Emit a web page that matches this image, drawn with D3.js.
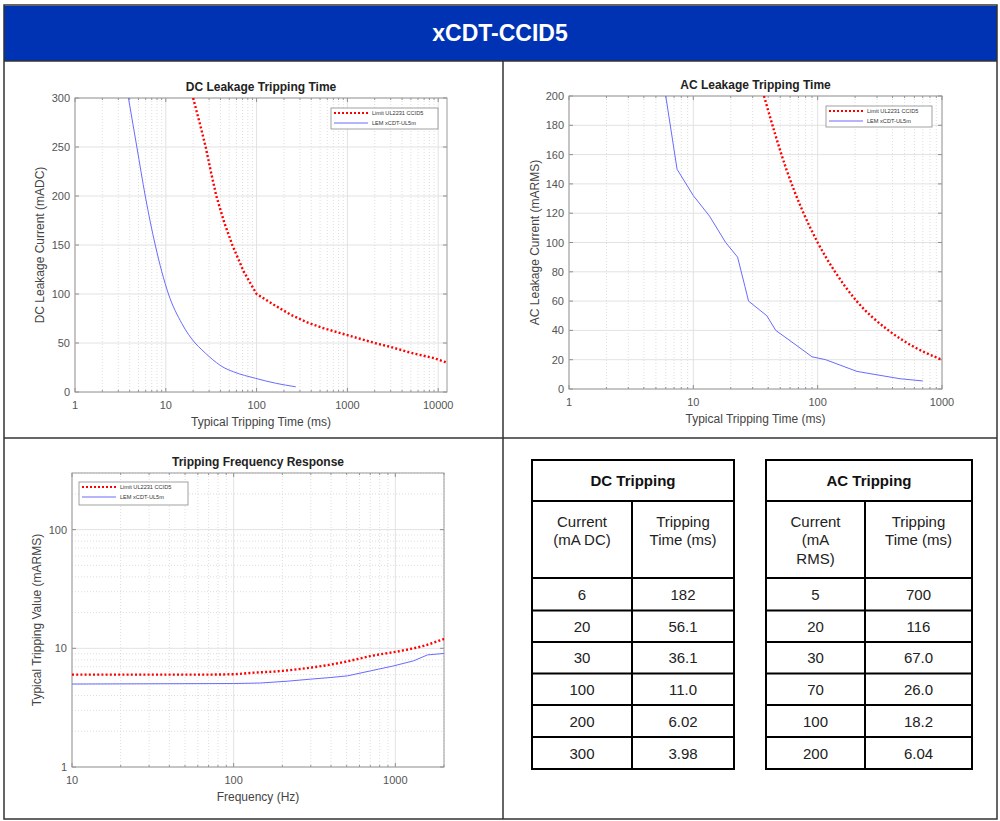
<!DOCTYPE html>
<html lang="en">
<head>
<meta charset="utf-8">
<title>xCDT-CCID5</title>
<script src="https://d3js.org/d3.v7.min.js"></script>
<style>
  body { margin: 0; background: #fff; }
  svg text { font-family: "Liberation Sans", Arial, sans-serif; }
</style>
</head>
<body>
<div class="page"></div>
<script>
// ---- data ----
const legendNames = ["Limit UL2231 CCID5", "LEM xCDT-UL5m"];

// DC leakage tripping time (ms) vs current (mA DC)
const dcLimitTime    = [20, 24, 27.5, 31.5, 36, 44, 54, 72, 100, 155, 236, 361, 550, 1000, 2000, 3000, 5000, 9000, 12500];
const dcLimitCurrent = [300, 272, 250, 224, 200, 173, 150, 123, 100, 89, 79, 71, 65, 58, 50, 46, 40, 34.5, 30];
const dcLemTime      = [3.88, 4.8, 5.94, 7.65, 10.7, 15, 21, 25, 36.1, 41.6, 56.1, 97, 161, 270];
const dcLemCurrent   = [300, 250, 200, 150, 100, 70, 50, 43, 30, 26, 20.5, 14, 9, 5.3];

// AC leakage tripping time (ms) vs current (mA RMS)
const acLimitTime    = [37, 56, 100, 138, 206, 371, 560, 727, 1000];
const acLimitCurrent = [200, 150, 100, 80, 60, 40, 30, 25, 20];
const acLemTime      = [6.0, 7.4, 10, 13.5, 18.2, 22.7, 26, 27.8, 39, 46, 67, 90, 116, 207, 460, 700];
const acLemCurrent   = [200, 150, 132, 118, 100, 90, 70, 60, 50, 40, 30, 22, 20, 12, 7, 5.5];

// frequency response: tripping value (mA RMS) vs frequency (Hz)
const freqLimitHz    = [10, 60, 100, 126, 200, 258, 400, 526, 700, 1075, 1500, 2000];
const freqLimitValue = [6, 6, 6.05, 6.2, 6.45, 6.7, 7.3, 7.86, 8.6, 9.5, 10.5, 12];
const freqLemHz      = [10, 100, 146, 214, 300, 400, 505, 700, 972, 1300, 1580, 2000];
const freqLemValue   = [5.0, 5.05, 5.1, 5.28, 5.5, 5.68, 5.86, 6.45, 7.1, 7.85, 8.8, 9.05];

// tables
const dcTableCurrent = ["6", "20", "30", "100", "200", "300"];
const dcTableTime    = ["182", "56.1", "36.1", "11.0", "6.02", "3.98"];
const acTableCurrent = ["5", "20", "30", "70", "100", "200"];
const acTableTime    = ["700", "116", "67.0", "26.0", "18.2", "6.04"];

const RED = "#ff0000", BLUE = "#6a6aff";

const svg = d3.select('.page').append('svg')
    .attr('width', 1000).attr('height', 821);

/* page frame + header */
svg.append('rect').attr('x', 4).attr('y', 6).attr('width', 993).attr('height', 55)
    .attr('fill', '#0033b3');
svg.append('text').attr('x', 500).attr('y', 41).attr('text-anchor', 'middle')
    .attr('font-size', 23).attr('font-weight', 'bold').attr('fill', '#fff')
    .text('xCDT-CCID5');
const frame = svg.append('g').attr('stroke', '#333').attr('stroke-width', 1.5).attr('fill', 'none');
frame.append('rect').attr('x', 4).attr('y', 5).attr('width', 993).attr('height', 814);
frame.append('line').attr('x1', 4).attr('x2', 997).attr('y1', 61).attr('y2', 61);
frame.append('line').attr('x1', 4).attr('x2', 997).attr('y1', 438).attr('y2', 438);
frame.append('line').attr('x1', 503).attr('x2', 503).attr('y1', 61).attr('y2', 819);

let clipId = 0;

function drawChart(opt) {
    const x = opt.x, y = opt.y;
    const [x0, x1] = x.range();
    const [yb, yt] = y.range();
    const g = svg.append('g');

    // grid
    const xTicks = x.ticks();
    const xMajor = opt.xMajor;
    const yMajor = opt.yMajor;
    if (opt.xLog) {
        g.selectAll('.xminor').data(xTicks.filter(t => !xMajor.includes(t)))
            .enter().append('line')
            .attr('x1', d => x(d)).attr('x2', d => x(d)).attr('y1', yt).attr('y2', yb)
            .attr('stroke', '#d4d4d4').attr('stroke-width', 0.8).attr('stroke-dasharray', '1,2');
    }
    if (opt.yLog) {
        g.selectAll('.yminor').data(y.ticks().filter(t => !yMajor.includes(t)))
            .enter().append('line')
            .attr('y1', d => y(d)).attr('y2', d => y(d)).attr('x1', x0).attr('x2', x1)
            .attr('stroke', '#d4d4d4').attr('stroke-width', 0.8).attr('stroke-dasharray', '1,2');
    }
    g.selectAll('.xmajor').data(xMajor).enter().append('line')
        .attr('x1', d => x(d)).attr('x2', d => x(d)).attr('y1', yt).attr('y2', yb)
        .attr('stroke', '#e2e2e2').attr('stroke-width', 1);
    g.selectAll('.ymajor').data(yMajor).enter().append('line')
        .attr('y1', d => y(d)).attr('y2', d => y(d)).attr('x1', x0).attr('x2', x1)
        .attr('stroke', '#e2e2e2').attr('stroke-width', 1);

    // ticks inward on all sides
    const tk = g.append('g').attr('stroke', '#777').attr('stroke-width', 0.8);
    xMajor.forEach(t => {
        tk.append('line').attr('x1', x(t)).attr('x2', x(t)).attr('y1', yb).attr('y2', yb - 4);
        tk.append('line').attr('x1', x(t)).attr('x2', x(t)).attr('y1', yt).attr('y2', yt + 4);
    });
    yMajor.forEach(t => {
        tk.append('line').attr('y1', y(t)).attr('y2', y(t)).attr('x1', x0).attr('x2', x0 + 4);
        tk.append('line').attr('y1', y(t)).attr('y2', y(t)).attr('x1', x1).attr('x2', x1 - 4);
    });
    if (opt.xLog) xTicks.filter(t => !xMajor.includes(t)).forEach(t => {
        tk.append('line').attr('x1', x(t)).attr('x2', x(t)).attr('y1', yb).attr('y2', yb - 2);
        tk.append('line').attr('x1', x(t)).attr('x2', x(t)).attr('y1', yt).attr('y2', yt + 2);
    });

    // box
    g.append('rect').attr('x', x0).attr('y', yt).attr('width', x1 - x0).attr('height', yb - yt)
        .attr('fill', 'none').attr('stroke', '#9a9a9a').attr('stroke-width', 1);

    // tick labels
    g.selectAll('.xl').data(xMajor).enter().append('text')
        .attr('x', d => x(d)).attr('y', yb + 17).attr('text-anchor', 'middle')
        .attr('font-size', 11).attr('fill', '#555').text(d => d);
    g.selectAll('.yl').data(opt.yLabels).enter().append('text')
        .attr('x', x0 - 5).attr('y', d => y(d) + 4).attr('text-anchor', 'end')
        .attr('font-size', 11).attr('fill', '#555').text(d => d);

    // titles
    g.append('text').attr('x', (x0 + x1) / 2).attr('y', yt - 7).attr('text-anchor', 'middle')
        .attr('font-size', 12).attr('font-weight', 'bold').attr('fill', '#222').text(opt.title);
    g.append('text').attr('x', (x0 + x1) / 2).attr('y', yb + 34).attr('text-anchor', 'middle')
        .attr('font-size', 12).attr('fill', '#444').text(opt.xTitle);
    g.append('text').attr('transform', `translate(${opt.yTitleX},${(yt + yb) / 2}) rotate(-90)`)
        .attr('text-anchor', 'middle').attr('font-size', 12).attr('fill', '#444').text(opt.yTitle);

    // curves
    const id = 'clip' + (clipId++);
    svg.append('clipPath').attr('id', id).append('rect')
        .attr('x', x0).attr('y', yt - 2).attr('width', x1 - x0 + 2).attr('height', yb - yt + 2);
    const line = d3.line().x(d => x(d[0])).y(d => y(d[1]));
    const lc = g.append('g').attr('clip-path', `url(#${id})`);
    lc.append('path').datum(opt.lem)
        .attr('d', line.curve(opt.lemCurve || d3.curveMonotoneX))
        .attr('fill', 'none').attr('stroke', BLUE).attr('stroke-width', 1);
    lc.append('path').datum(opt.limit)
        .attr('d', line.curve(opt.limitCurve || d3.curveMonotoneX))
        .attr('fill', 'none').attr('stroke', RED).attr('stroke-width', 2.4)
        .attr('stroke-dasharray', '2,2.2');

    // legend
    const [lx, ly, lw, lh] = opt.legend;
    const lg = g.append('g');
    lg.append('rect').attr('x', lx).attr('y', ly).attr('width', lw).attr('height', lh)
        .attr('fill', '#fff').attr('stroke', '#8a8a8a').attr('stroke-width', 0.8);
    [RED, BLUE].forEach((c, i) => {
        const yy = ly + 5 + i * 10;
        lg.append('line').attr('x1', lx + 3).attr('x2', lx + 37).attr('y1', yy).attr('y2', yy)
            .attr('stroke', c).attr('stroke-width', i === 0 ? 2.2 : 1)
            .attr('stroke-dasharray', i === 0 ? '2,2' : null);
        lg.append('text').attr('x', lx + 41).attr('y', yy + 2).attr('font-size', 5.6)
            .attr('fill', '#333').text(legendNames[i]);
    });
}

/* DC leakage chart */
drawChart({
    x: d3.scaleLog().domain([1, 12500]).range([75, 447]),
    y: d3.scaleLinear().domain([0, 300]).range([392, 98]),
    xLog: true,
    xMajor: [1, 10, 100, 1000, 10000],
    yMajor: [0, 50, 100, 150, 200, 250, 300],
    yLabels: [0, 50, 100, 150, 200, 250, 300],
    title: 'DC Leakage Tripping Time',
    xTitle: 'Typical Tripping Time (ms)',
    yTitle: 'DC Leakage Current (mADC)',
    yTitleX: 44,
    limit: d3.zip(dcLimitTime, dcLimitCurrent),
    lem: d3.zip(dcLemTime, dcLemCurrent),
    limitCurve: d3.curveLinear,
    legend: [331, 108, 107, 21]
});

/* AC leakage chart */
drawChart({
    x: d3.scaleLog().domain([1, 1000]).range([569, 942]),
    y: d3.scaleLinear().domain([0, 200]).range([389, 96]),
    xLog: true,
    xMajor: [1, 10, 100, 1000],
    yMajor: d3.range(0, 201, 20),
    yLabels: d3.range(0, 201, 20),
    title: 'AC Leakage Tripping Time',
    xTitle: 'Typical Tripping Time (ms)',
    yTitle: 'AC Leakage Current (mARMS)',
    yTitleX: 539,
    limit: d3.zip(acLimitTime, acLimitCurrent),
    lem: d3.zip(acLemTime, acLemCurrent),
    lemCurve: d3.curveLinear,
    legend: [826, 106, 106, 21]
});

/* frequency response chart */
drawChart({
    x: d3.scaleLog().domain([10, 2000]).range([72, 444]),
    y: d3.scaleLog().domain([1, 300]).range([767, 473]),
    xLog: true,
    yLog: true,
    xMajor: [10, 100, 1000],
    yMajor: [1, 10, 100],
    yLabels: [1, 10, 100],
    title: 'Tripping Frequency Response',
    xTitle: 'Frequency (Hz)',
    yTitle: 'Typical Tripping Value (mARMS)',
    yTitleX: 41,
    limit: d3.zip(freqLimitHz, freqLimitValue),
    lem: d3.zip(freqLemHz, freqLemValue),
    lemCurve: d3.curveLinear,
    legend: [79, 482, 109, 23]
});

/* tables */
const rowY = [460, 501, 578, 610.5, 642, 673.5, 705, 737, 769];

function drawTable(x0, xs, x1, title, head1, head2, col1, col2) {
    const g = svg.append('g');
    const b = g.append('g').attr('stroke', '#000').attr('stroke-width', 2);
    b.append('rect').attr('x', x0).attr('y', rowY[0]).attr('width', x1 - x0)
        .attr('height', rowY[8] - rowY[0]).attr('fill', 'none');
    b.selectAll('.h').data(rowY.slice(1, 8)).enter().append('line')
        .attr('x1', x0).attr('x2', x1).attr('y1', d => d).attr('y2', d => d);
    b.append('line').attr('x1', xs).attr('x2', xs).attr('y1', rowY[1]).attr('y2', rowY[8]);

    g.append('text').attr('x', (x0 + x1) / 2).attr('y', 486).attr('text-anchor', 'middle')
        .attr('font-size', 15).attr('font-weight', 'bold').attr('fill', '#111').text(title);
    [[head1, (x0 + xs) / 2], [head2, (xs + x1) / 2]].forEach(([lines, cx]) => {
        g.selectAll(null).data(lines).enter().append('text')
            .attr('x', cx).attr('y', (d, i) => 527 + i * 18.3).attr('text-anchor', 'middle')
            .attr('font-size', 15).attr('fill', '#222').text(d => d);
    });
    [[col1, (x0 + xs) / 2], [col2, (xs + x1) / 2]].forEach(([vals, cx]) => {
        g.selectAll(null).data(vals).enter().append('text')
            .attr('x', cx).attr('y', (d, i) => (rowY[i + 2] + rowY[i + 3]) / 2 + 5.5)
            .attr('text-anchor', 'middle').attr('font-size', 15).attr('fill', '#222').text(d => d);
    });
}

drawTable(532, 632, 734, 'DC Tripping', ['Current', '(mA DC)'], ['Tripping', 'Time (ms)'],
    dcTableCurrent, dcTableTime);
drawTable(766, 865, 972, 'AC Tripping', ['Current', '(mA', 'RMS)'], ['Tripping', 'Time (ms)'],
    acTableCurrent, acTableTime);
</script>
</body>
</html>
